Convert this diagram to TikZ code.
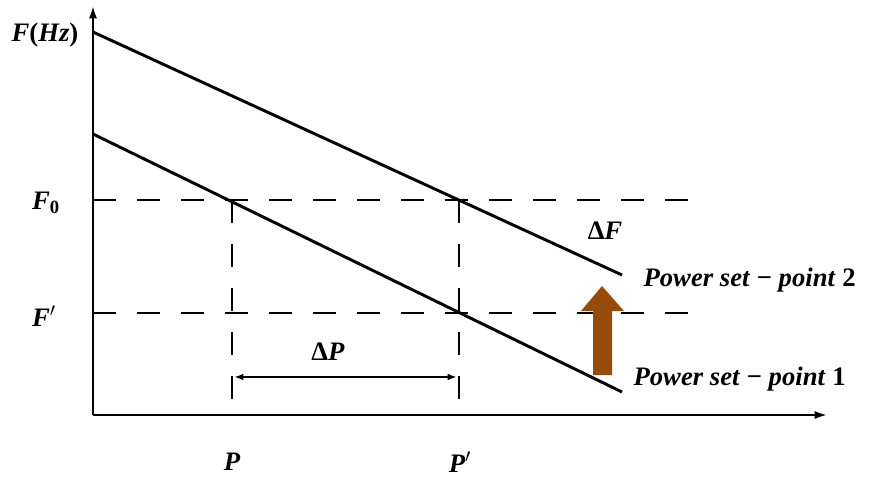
\documentclass[tikz,border=0pt]{standalone}
\usepackage{fontspec}
\setmainfont{Liberation Serif}
\usetikzlibrary{arrows.meta}

\begin{document}
\begin{tikzpicture}[
  x=0.75pt, y=-0.75pt,
  font=\fontsize{20}{24}\selectfont\bfseries\itshape,
  axis/.style={line width=2.2pt, -{Latex[length=10pt,width=6pt]}},
  droop/.style={line width=2.2pt},
  guide/.style={line width=2.2pt, dash pattern=on 17pt off 16pt},
  span/.style={line width=1.6pt, {Latex[length=7pt,width=5pt]}-{Latex[length=7pt,width=5pt]}},
  lbl/.style={inner sep=1pt}
]
\useasboundingbox (0,0) rectangle (875,481);

% Axes
\coordinate (o) at (93,415);
\coordinate (ytop) at (93,5);
\coordinate (xend) at (828,415);
\draw[axis] (o) -- (ytop);
\draw[axis] (o) -- (xend);

% Droop lines for the two set-points
\coordinate (a1) at (93,32);
\coordinate (a2) at (622,275);
\coordinate (b1) at (93,134);
\coordinate (b2) at (622,392);
\draw[droop] (a1) -- (a2);
\draw[droop] (b1) -- (b2);

% Dashed guides
\coordinate (f0l) at (93,200);
\coordinate (f0r) at (692,200);
\coordinate (fpl) at (93,313);
\coordinate (fpr) at (692,313);
\draw[guide] (f0l) -- (f0r);
\draw[guide] (fpl) -- (fpr);
\coordinate (pt) at (232,200);
\coordinate (pb) at (232,415);
\coordinate (qt) at (459,200);
\coordinate (qb) at (459,415);
\draw[guide] (pt) -- (pb);
\draw[guide] (qt) -- (qb);

% Delta P span
\coordinate (sl) at (234,377);
\coordinate (sr) at (457,377);
\draw[span] (sl) -- (sr);

% Set-point shift arrow
\fill[fill={rgb,255:red,150;green,75;blue,10}]
  (593,375) -- (612,375) -- (612,311) -- (624,311) -- (602,286)
  -- (581,311) -- (593,311) -- cycle;

% Labels
\node[lbl] (fhz) at (45,35) {F\textup{(}Hz\textup{)}};
\node[lbl] (fzero) at (46,203) {F$_{\mathbf{0}}$};
\node[lbl] (fprime) at (44,316) {F$'$};
\node[lbl] (plab) at (232,462) {P};
\node[lbl] (pprime) at (460,462) {P$'$};
\node[lbl] (dp) at (328,352) {\textup{Δ}P};
\node[lbl] (df) at (605,231) {\textup{Δ}F};
\node[lbl, anchor=west] (sp2) at (642,280) {Power set \textup{−} point \textup{2}};
\node[lbl, anchor=west] (sp1) at (632,379) {Power set \textup{−} point \textup{1}};

\end{tikzpicture}
\end{document}
